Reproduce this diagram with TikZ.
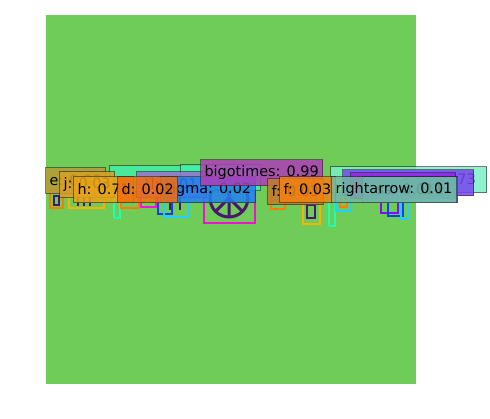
\documentclass[tikz,border=0pt]{standalone}
\usepackage{fontspec}
\setmainfont{DejaVu Sans}
\begin{document}
\begin{tikzpicture}[x=1pt,y=-1pt,
  lab/.style={rectangle, anchor=north west, minimum height=26pt, inner xsep=4pt, inner ysep=0pt,
    fill opacity=0.85, text opacity=1, draw=black!85, draw opacity=0.6, line width=1.2pt,
    font=\fontsize{14.4}{16}\selectfont, text=black},
  det/.style={draw, line width=2.8pt},
  glyph/.style={draw=gly, line width=2.2pt}]
\definecolor{bg}{HTML}{70CC58}
\definecolor{gly}{HTML}{4A1670}
\definecolor{cE}{HTML}{B89A38}
\definecolor{cJ}{HTML}{D8A028}
\definecolor{cH}{HTML}{E8A418}
\definecolor{cD}{HTML}{F26E0E}
\definecolor{cS}{HTML}{2280F0}
\definecolor{cB}{HTML}{B03CB8}
\definecolor{cG}{HTML}{40F0A8}
\definecolor{cL}{HTML}{9A70D0}
\definecolor{cF}{HTML}{C47A2C}
\definecolor{cFF}{HTML}{F28212}
\definecolor{cR}{HTML}{72B8A0}
\definecolor{cLB}{HTML}{5AAAF0}
\definecolor{cP}{HTML}{7A44F0}
\definecolor{cV}{HTML}{9A22F2}
\definecolor{cM}{HTML}{78F0C8}
\definecolor{dOr}{HTML}{FF7A00}
\definecolor{dYe}{HTML}{FFB000}
\definecolor{dSg}{HTML}{20FFB0}
\definecolor{dMa}{HTML}{FF10E0}
\definecolor{dBl}{HTML}{1040FF}
\definecolor{dCy}{HTML}{20D0FF}
\definecolor{dPk}{HTML}{F010D0}
\definecolor{dPu}{HTML}{8010F0}
\useasboundingbox (0,0) rectangle (490,418);
\fill[white] (0,0) rectangle (490,418);
\fill[bg] (46,15) rectangle (416,384);
% detection boxes (left)
\draw[det, dOr] (50,190) rectangle (63,208);
\draw[gly, line width=2pt] (54,196) rectangle (59,205);
\draw[det, dYe] (69,191) rectangle (104,208);
\draw[glyph] (78,195) -- (78,206) (84,195) -- (84,206) (90,195) -- (90,206);
\draw[det, dSg] (114,195) rectangle (120,218);
\draw[det, dOr] (121,195) rectangle (139,208);
\draw[det, dMa] (141,195) rectangle (156,207);
\draw[det, dBl] (158,195) rectangle (172,214);
\draw[det, dCy] (164,195) rectangle (189,217);
\draw[glyph] (170,196) -- (170,210) (180,196) -- (180,210);
% bigotimes detection
\draw[det, dPk] (204,184) rectangle (255,223);
\draw[glyph, line width=3pt] (229,198) circle (19);
\draw[glyph, line width=3pt] (229,179) -- (229,217) (229,198) -- (216,211) (229,198) -- (242,211);
% detection boxes (right)
\draw[det, dOr] (271,195) rectangle (285,209);
\draw[det, dYe] (303,195) rectangle (320,224);
\draw[glyph] (307,205) rectangle (315,218);
\draw[det, dSg] (329,195) rectangle (335,226);
\draw[det, dCy] (336,195) rectangle (351,211);
\draw[det, dOr, line width=1.6pt] (340,199) rectangle (347,207);
\draw[det, dPu] (381,195) rectangle (398,213);
\draw[det, dBl] (388,195) rectangle (403,216);
\draw[det, dCy] (401,195) rectangle (408,219);
% labels, back to front
\node[lab, fill=cG, minimum width=95pt] (gi) at (109,165) {};
\node[lab, fill=cG, minimum width=80pt] (gt) at (180,164) {};
\node[lab, fill=cL, minimum width=70pt] (lt) at (136,171) {\textbackslash l: 0.01};
\node[lab, fill=cE] (e) at (45,167) {e: 0.03};
\node[lab, fill=cJ] (j) at (59,171) {j: 0.03};
\node[lab, fill=cH] (h) at (73,176) {h: 0.71};
\node[lab, fill=cS] (s) at (160,176) {sigma: 0.02};
\node[lab, fill=cD] (d) at (117,176) {d: 0.02};
\node[lab, fill=cB] (b) at (200,159) {bigotimes: 0.99};
\node[lab, fill=cM, minimum width=156pt, align=right] (m) at (330,166) {\hspace*{28pt}lambda: 0.073};
\node[lab, fill=cP, minimum width=131pt] (p) at (342,169) {\hspace*{22pt}\textbackslash: 0.07};
\node[lab, fill=cV, minimum width=105pt] (v) at (350,172) {pi: 0.01};
\node[lab, fill=cLB, minimum width=95pt] (lb) at (362,176) {ss: 0.011};
\node[lab, fill=cF] (f1) at (267,178) {f: 0.03};
\node[lab, fill=cFF] (f2) at (279,176) {f: 0.03};
\node[lab, fill=cR] (r) at (331,176) {rightarrow: 0.01};
\end{tikzpicture}
\end{document}
